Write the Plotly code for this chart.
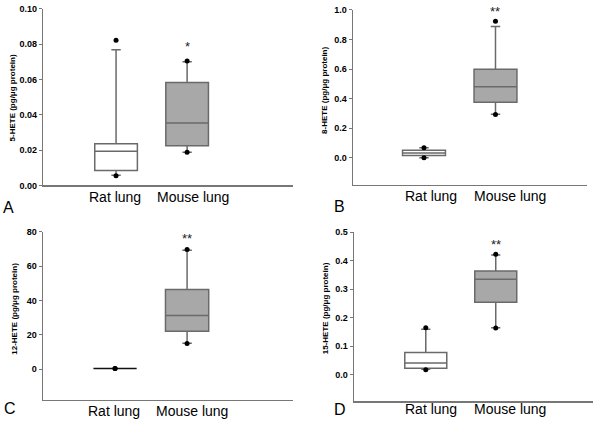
import plotly.graph_objects as go

# ---------------- data ----------------
categories = ["Rat lung", "Mouse lung"]
panel_letters = ["A", "B", "C", "D"]
y_titles = ["5-HETE (pg/μg protein)", "8-HETE (pg/μg protein)",
            "12-HETE (pg/μg protein)", "15-HETE (pg/μg protein)"]

# box statistics per panel: [rat, mouse]
lower_whisker = [[0.0058, 0.0188], [0.000, 0.295], [0.4, 15.2], [0.018, 0.164]]
q1_values     = [[0.0085, 0.0225], [0.015, 0.376], [0.4, 22.2], [0.022, 0.254]]
median_values = [[0.0194, 0.0353], [0.032, 0.480], [0.4, 31.3], [0.040, 0.335]]
q3_values     = [[0.0236, 0.0583], [0.051, 0.598], [0.4, 46.4], [0.077, 0.364]]
upper_whisker = [[0.0769, 0.0700], [0.068, 0.888], [0.4, 69.3], [0.159, 0.420]]
# 5th / 95th percentile dots per panel: [rat_low, rat_high], [mouse_low, mouse_high]
rat_dots   = [[0.0055, 0.0823], [0.000, 0.068], [0.4, 0.4], [0.017, 0.164]]
mouse_dots = [[0.0188, 0.0705], [0.293, 0.923], [15.0, 69.8], [0.163, 0.423]]

significance = ["*", "**", "**", "**"]
significance_y = [0.0786, 0.99, 76, 0.457]

y_ticks = [[0.00, 0.02, 0.04, 0.06, 0.08, 0.10],
           [0.0, 0.2, 0.4, 0.6, 0.8, 1.0],
           [0, 20, 40, 60, 80],
           [0.0, 0.1, 0.2, 0.3, 0.4, 0.5]]
y_tick_format = [".2f", ".1f", "d", ".1f"]

# ---------------- layout config ----------------
W, H = 604, 427
y_ranges = [[0, 0.10], [-0.184, 1.0], [-17.6, 80], [-0.095, 0.5]]
x_ranges = [[-0.024, 3.49], [0.007, 3.28], [0.0, 3.47], [-0.026, 3.39]]
# pixel boxes for each axes: (left, right, top, bottom)
px_boxes = [(43.3, 293, 4, 184.7), (353, 587, 5, 184.3),
            (43, 293, 232.3, 404), (354, 593, 232.7, 406)]
label_x = [[0.99, 2.08], [1.10, 2.20], [0.98, 2.07], [1.07, 2.20]]
label_drop = [11.5, 11.5, 11, 8]
ytitle_pos = [(12.7, 95), (325, 88), (15, 311), (325, 310.5)]
letter_pos = [(1, 207.5), (332, 206), (2, 413), (332, 414.5)]

FONT = "Arial, Liberation Sans, sans-serif"
box_line = "#6a6a6a"
fills = ["#ffffff", "#a8a8a8"]
positions = [1, 2]

fig = go.Figure()
annotations = []
layout = {}

for i in range(4):
    ax = "" if i == 0 else str(i + 1)
    xref, yref = "x" + ax, "y" + ax
    l, r, t, b = px_boxes[i]
    layout["xaxis" + ax] = dict(
        domain=[l / W, r / W], range=x_ranges[i], anchor=yref,
        showline=True, linecolor="#777777", linewidth=1.5,
        showticklabels=False, ticks="", showgrid=False, zeroline=False,
        fixedrange=True)
    layout["yaxis" + ax] = dict(
        domain=[1 - b / H, 1 - t / H], range=y_ranges[i], anchor=xref,
        showline=True, linecolor="#777777", linewidth=1.5,
        tickvals=y_ticks[i], tickformat=y_tick_format[i],
        ticks="outside", ticklen=3, tickcolor="#777777", tickwidth=1,
        tickfont=dict(family=FONT, size=9, color="black", weight="bold"),
        showgrid=False, zeroline=False, fixedrange=True)

    for j in range(2):
        collapsed = q1_values[i][j] == q3_values[i][j]
        fig.add_trace(go.Box(
            x=[positions[j]], q1=[q1_values[i][j]], median=[median_values[i][j]],
            q3=[q3_values[i][j]], lowerfence=[lower_whisker[i][j]],
            upperfence=[upper_whisker[i][j]],
            boxpoints=False, width=0.6, whiskerwidth=0.22,
            fillcolor=fills[j],
            line=dict(color="#111111" if collapsed else box_line, width=1.5),
            xaxis=xref, yaxis=yref, showlegend=False, hoverinfo="skip"))

    dots = [rat_dots[i], mouse_dots[i]]
    fig.add_trace(go.Scatter(
        x=[positions[0]] * 2 + [positions[1]] * 2,
        y=dots[0] + dots[1], mode="markers",
        marker=dict(color="black", size=5),
        xaxis=xref, yaxis=yref, showlegend=False, hoverinfo="skip"))

    annotations.append(dict(
        x=positions[1], y=significance_y[i], xref=xref, yref=yref,
        text=significance[i], showarrow=False,
        font=dict(family=FONT, size=13, color="#222222"),
        xanchor="center", yanchor="middle"))

    for j in range(2):
        annotations.append(dict(
            x=label_x[i][j], y=0, xref=xref, yref=yref + " domain",
            text=categories[j], showarrow=False, yanchor="middle",
            yshift=-label_drop[i],
            font=dict(family=FONT, size=14, color="black")))

    tx, ty = ytitle_pos[i]
    annotations.append(dict(
        x=tx / W, y=1 - ty / H, xref="paper", yref="paper",
        text=y_titles[i], textangle=-90, showarrow=False,
        xanchor="center", yanchor="middle",
        font=dict(family=FONT, size=8, color="black", weight="bold")))

    lx, ly = letter_pos[i]
    annotations.append(dict(
        x=lx / W, y=1 - ly / H, xref="paper", yref="paper",
        text=panel_letters[i], showarrow=False,
        xanchor="left", yanchor="middle",
        font=dict(family=FONT, size=16, color="black")))

fig.update_layout(
    width=W, height=H, margin=dict(l=0, r=0, t=0, b=0),
    paper_bgcolor="white", plot_bgcolor="white",
    annotations=annotations, **layout)

fig.write_html("out.html",
               config={"displayModeBar": False, "staticPlot": True},
               post_script="document.body.style.margin='0px';"
                           "document.body.style.padding='0px';")
